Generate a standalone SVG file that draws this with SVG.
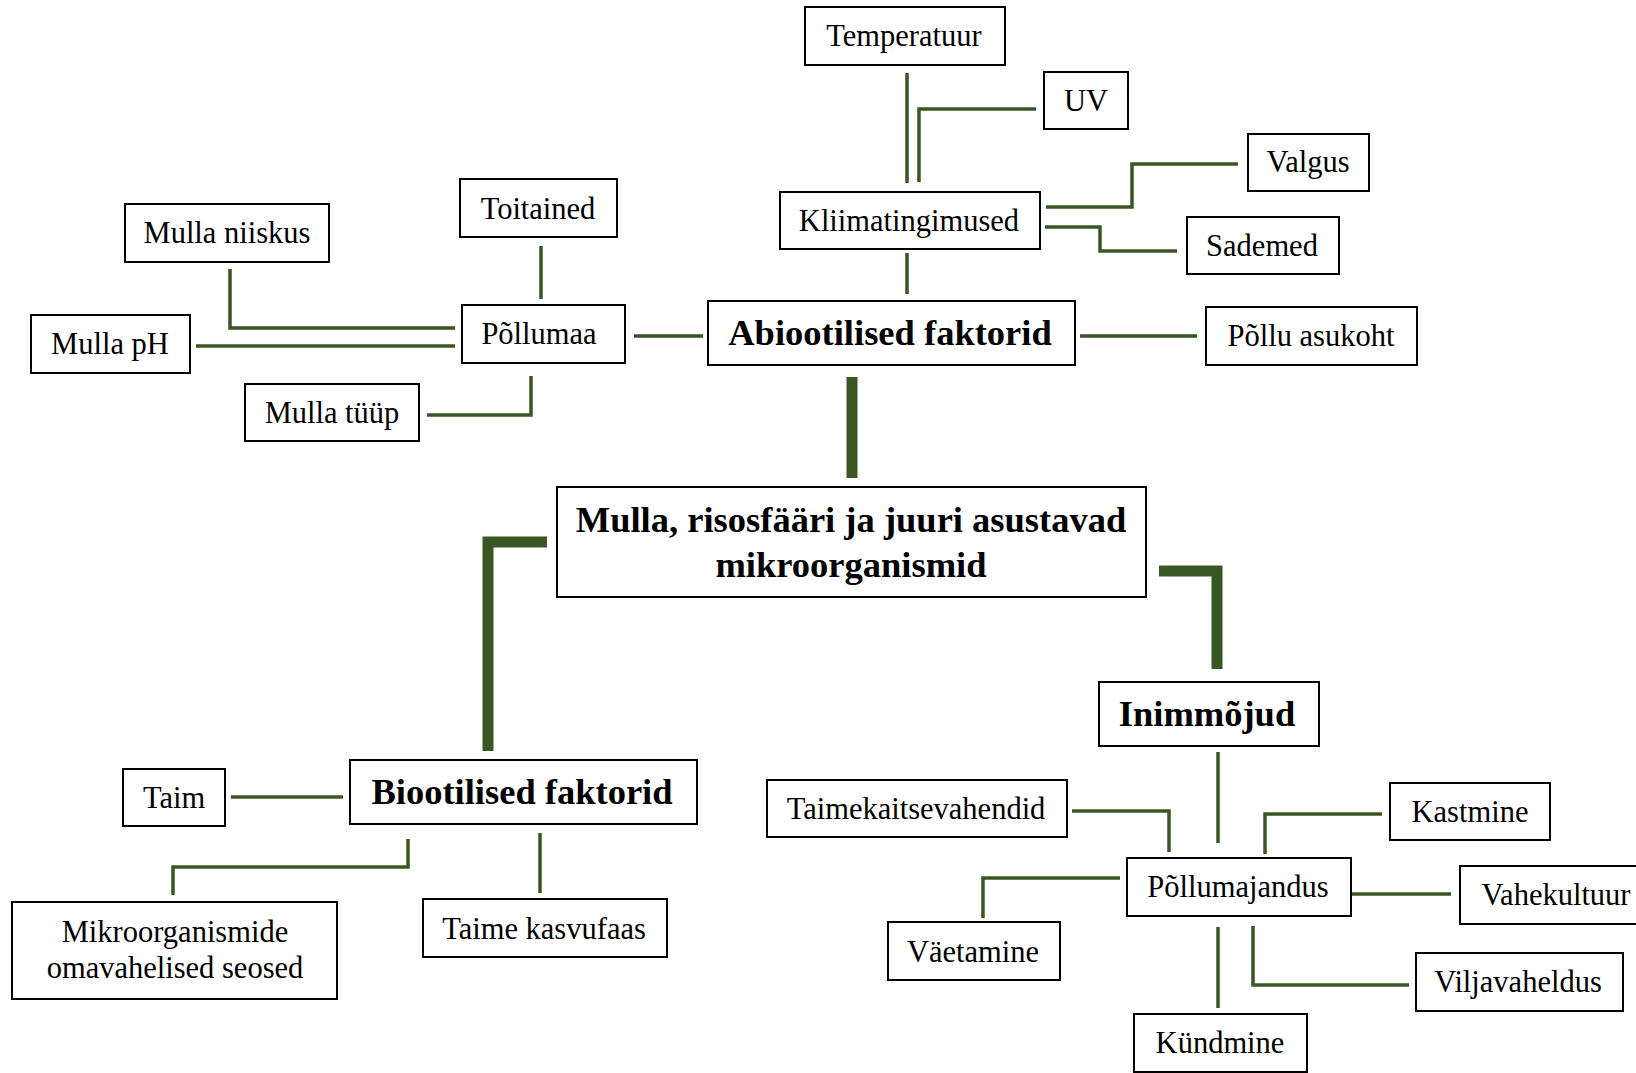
<svg xmlns="http://www.w3.org/2000/svg" width="1636" height="1073" viewBox="0 0 1636 1073">
<style>
.box{fill:#fff;stroke:#000;stroke-width:2}
.t{font-family:"Liberation Serif","Times New Roman",serif;font-size:30.5px;fill:#000;text-anchor:middle}
.b{font-family:"Liberation Serif","Times New Roman",serif;font-size:36.5px;font-weight:bold;fill:#000;text-anchor:middle}
.c{fill:none;stroke:#385723;stroke-width:3.5;stroke-linejoin:miter;stroke-linecap:butt}
.k{fill:none;stroke:#385723;stroke-width:11;stroke-linejoin:miter;stroke-linecap:butt}
</style>
<rect width="1636" height="1073" fill="#fff"/>
<g id="connectors">
<path class="c" d="M907,73 V183"/>
<path class="c" d="M1036,109 H919 V182"/>
<path class="c" d="M1046,207 H1132 V164 H1238"/>
<path class="c" d="M1045,227 H1100 V251 H1177"/>
<path class="c" d="M907,253 V294"/>
<path class="c" d="M1080,336 H1197"/>
<path class="c" d="M634,336 H703"/>
<path class="c" d="M541,246 V299"/>
<path class="c" d="M230,269 V328 H455"/>
<path class="c" d="M196,346 H455"/>
<path class="c" d="M427,415 H531 V376"/>
<path class="k" d="M852,377 V478"/>
<path class="k" d="M547,542 H488 V751"/>
<path class="k" d="M1159,571 H1217 V669"/>
<path class="c" d="M231,797 H343"/>
<path class="c" d="M173,895 V867 H408 V839"/>
<path class="c" d="M540,833 V893"/>
<path class="c" d="M1218,752 V843"/>
<path class="c" d="M1072,811 H1169 V852"/>
<path class="c" d="M1382,814 H1265 V854"/>
<path class="c" d="M1120,878 H983 V918"/>
<path class="c" d="M1352,894 H1451"/>
<path class="c" d="M1253,926 V985 H1409"/>
<path class="c" d="M1218,927 V1008"/>
</g>
<g id="temperatuur"><rect class="box" x="805" y="7" width="200" height="58"/><text class="t" x="904" y="46">Temperatuur</text></g>
<g id="uv"><rect class="box" x="1044" y="72" width="84" height="57"/><text class="t" x="1086" y="111">UV</text></g>
<g id="valgus"><rect class="box" x="1248" y="134" width="121" height="57"/><text class="t" x="1308" y="172">Valgus</text></g>
<g id="kliimatingimused"><rect class="box" x="780" y="192" width="260" height="57"/><text class="t" x="909" y="231">Kliimatingimused</text></g>
<g id="sademed"><rect class="box" x="1187" y="217" width="152" height="57"/><text class="t" x="1262" y="256">Sademed</text></g>
<g id="toitained"><rect class="box" x="460" y="179" width="157" height="58"/><text class="t" x="538" y="219">Toitained</text></g>
<g id="mulla-niiskus"><rect class="box" x="125" y="204" width="204" height="58"/><text class="t" x="227" y="243">Mulla niiskus</text></g>
<g id="mulla-ph"><rect class="box" x="31" y="315" width="159" height="58"/><text class="t" x="110" y="354">Mulla pH</text></g>
<g id="pollumaa"><rect class="box" x="462" y="305" width="163" height="58"/><text class="t" x="539" y="344">Põllumaa</text></g>
<g id="abiootilised"><rect class="box" x="708" y="301" width="367" height="64"/><text class="b" x="890" y="345">Abiootilised faktorid</text></g>
<g id="pollu-asukoht"><rect class="box" x="1206" y="307" width="211" height="58"/><text class="t" x="1311" y="346">Põllu asukoht</text></g>
<g id="mulla-tyyp"><rect class="box" x="245" y="384" width="174" height="57"/><text class="t" x="332" y="423">Mulla tüüp</text></g>
<g id="mikroorganismid"><rect class="box" x="557" y="487" width="589" height="110"/><text class="b" x="851" y="532">Mulla, risosfääri ja juuri asustavad</text><text class="b" x="851" y="577">mikroorganismid</text></g>
<g id="inimmojud"><rect class="box" x="1099" y="682" width="220" height="64"/><text class="b" x="1207" y="726">Inimmõjud</text></g>
<g id="biootilised"><rect class="box" x="350" y="760" width="347" height="64"/><text class="b" x="522" y="804">Biootilised faktorid</text></g>
<g id="taim"><rect class="box" x="123" y="769" width="102" height="57"/><text class="t" x="174" y="808">Taim</text></g>
<g id="mikro-seosed"><rect class="box" x="12" y="902" width="325" height="97"/><text class="t" x="175" y="942">Mikroorganismide</text><text class="t" x="175" y="978">omavahelised seosed</text></g>
<g id="taime-kasvufaas"><rect class="box" x="423" y="899" width="244" height="58"/><text class="t" x="544" y="939">Taime kasvufaas</text></g>
<g id="taimekaitsevahendid"><rect class="box" x="767" y="780" width="300" height="57"/><text class="t" x="916" y="819">Taimekaitsevahendid</text></g>
<g id="kastmine"><rect class="box" x="1390" y="783" width="160" height="57"/><text class="t" x="1470" y="822">Kastmine</text></g>
<g id="pollumajandus"><rect class="box" x="1127" y="858" width="224" height="58"/><text class="t" x="1238" y="897">Põllumajandus</text></g>
<g id="vahekultuur"><rect class="box" x="1460" y="866" width="180" height="58"/><text class="t" x="1556" y="905">Vahekultuur</text></g>
<g id="vaetamine"><rect class="box" x="888" y="922" width="172" height="58"/><text class="t" x="973" y="962">Väetamine</text></g>
<g id="viljavaheldus"><rect class="box" x="1416" y="953" width="207" height="58"/><text class="t" x="1518" y="992">Viljavaheldus</text></g>
<g id="kundmine"><rect class="box" x="1134" y="1014" width="173" height="58"/><text class="t" x="1220" y="1053">Kündmine</text></g>
</svg>
